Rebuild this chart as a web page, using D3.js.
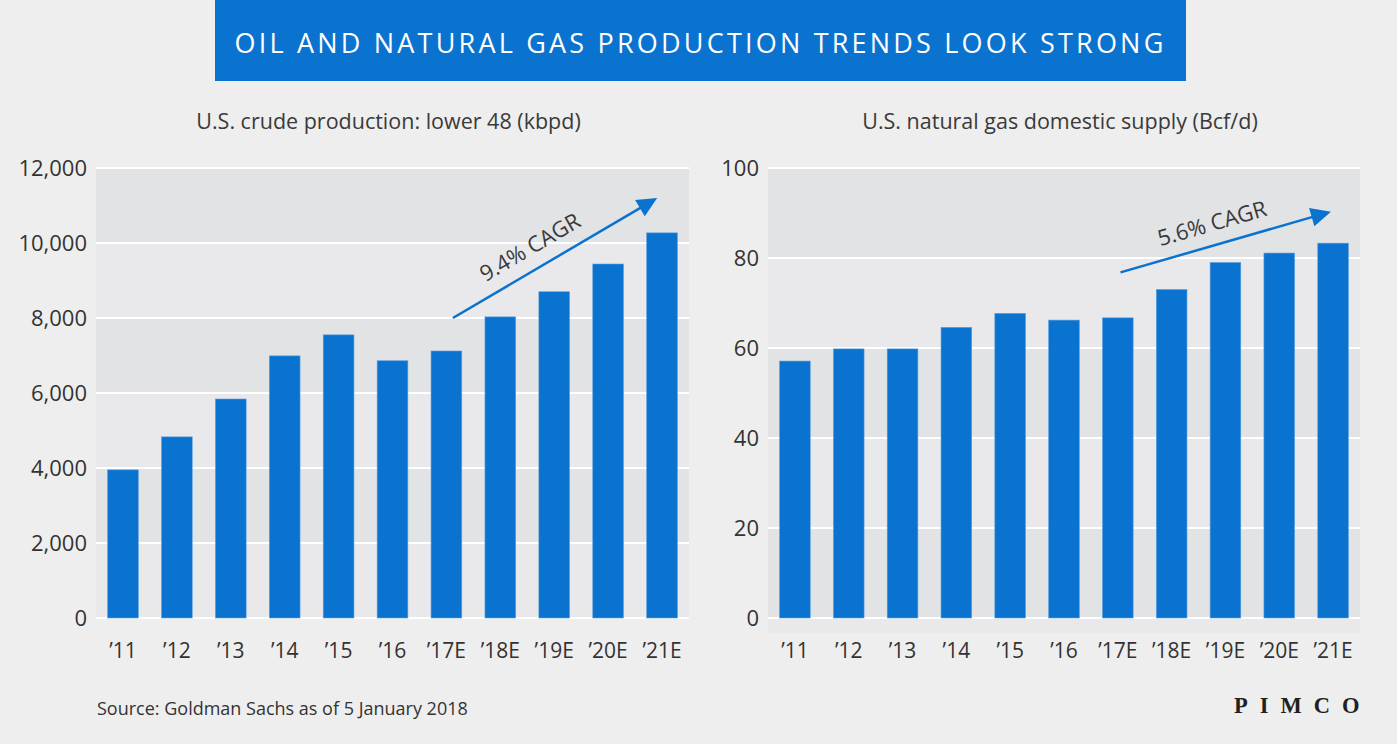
<!DOCTYPE html>
<html><head><meta charset="utf-8">
<script src="https://cdn.jsdelivr.net/npm/d3@7/dist/d3.min.js"></script>
<style>
html,body{margin:0;padding:0;background:#eeeeee;}
svg{display:block;}
text{font-family:"Open Sans","Noto Sans",sans-serif;fill:#333;}
</style></head>
<body>
<svg id="c" width="1397" height="744"></svg>
<script>
const categories = ["\u201911","\u201912","\u201913","\u201914","\u201915","\u201916","\u201917E","\u201918E","\u201919E","\u201920E","\u201921E"];
const crudeValues = [3950, 4830, 5840, 6990, 7550, 6860, 7120, 8030, 8700, 9440, 10270];
const gasValues = [57.1, 59.8, 59.8, 64.6, 67.7, 66.2, 66.7, 73.0, 79.0, 81.1, 83.3];
const crudeTicks = [0, 2000, 4000, 6000, 8000, 10000, 12000];
const gasTicks = [0, 20, 40, 60, 80, 100];
const titleText = "OIL AND NATURAL GAS PRODUCTION TRENDS LOOK STRONG";
const crudeSubtitle = "U.S. crude production: lower 48 (kbpd)";
const gasSubtitle = "U.S. natural gas domestic supply (Bcf/d)";
const crudeCagr = "9.4% CAGR";
const gasCagr = "5.6% CAGR";
// arrow annotations in data terms: [categoryIndex, value]
const crudeArrow = [[6.12, 8000], [9.91, 11200]];
const gasArrow = [[6.05, 76.8], [9.96, 90.3]];
const crudeLabelPos = [7.55, 9890];
const gasLabelPos = [7.75, 87.7];
const sourceText = "Source: Goldman Sachs as of 5 January 2018";

const BLUE = "#0a72cf", DARK = "#e2e3e5", LIGHT = "#e9e9eb";
const svg = d3.select("#c");
svg.append("rect").attr("width",1397).attr("height",744).attr("fill","#eeeeee");

// Title banner
svg.append("rect").attr("x",215).attr("y",0).attr("width",971).attr("height",81).attr("fill",BLUE);
svg.append("text").attr("x",700.5).attr("y",53).attr("text-anchor","middle")
  .style("fill","#fff").style("font-size","27px").style("letter-spacing","3.2px")
  .text(titleText);

function panel(opts){
  const {x0,x1,values,ticks,subtitle,arrow,labelPos,label,extendBelow,topDark} = opts;
  const yTop = 168, yZero = 618;
  const x = d3.scaleBand().domain(categories).range([x0,x1]).paddingInner(0.43).paddingOuter(0.215);
  const y = d3.scaleLinear().domain([0, ticks[ticks.length-1]]).range([yZero, yTop]);
  const step = x.step();
  const xi = i => x(categories[0]) + x.bandwidth()/2 + i*step;
  const g = svg.append("g");
  // bands
  for(let k=0;k<ticks.length-1;k++){
    const fromTop = ticks.length-2-k;
    g.append("rect").attr("x",x0).attr("width",x1-x0)
      .attr("y",y(ticks[k+1])).attr("height",y(ticks[k])-y(ticks[k+1]))
      .attr("fill",(fromTop%2===0)===topDark?DARK:LIGHT);
  }
  if(extendBelow){
    g.append("rect").attr("x",x0).attr("width",x1-x0).attr("y",yZero).attr("height",extendBelow)
      .attr("fill",((ticks.length-1)%2===0)===topDark?DARK:LIGHT);
  }
  // gridlines (behind bars)
  g.selectAll(".grid").data(ticks).join("line")
    .attr("x1",x0).attr("x2",x1).attr("y1",d=>y(d)).attr("y2",d=>y(d))
    .attr("stroke","#fff").attr("stroke-width",2);
  // bars
  g.selectAll(".bar").data(values).join("rect")
    .attr("x",(d,i)=>x(categories[i])).attr("width",x.bandwidth())
    .attr("y",d=>y(d)).attr("height",d=>y(0)-y(d))
    .attr("fill",BLUE).attr("stroke","#5aa0e0").attr("stroke-width",0.6);
  // y axis labels
  const ya = d3.axisLeft(y).tickValues(ticks).tickSize(0).tickPadding(9).tickFormat(d3.format(","));
  const yg = g.append("g").attr("transform",`translate(${x0},0)`).call(ya);
  yg.select(".domain").remove();
  yg.selectAll("text").style("font-size","22px").style("fill","#333").attr("dy","0.36em")
    .style("font-family","'Open Sans','Noto Sans',sans-serif");
  // x axis labels
  const xa = d3.axisBottom(x).tickSize(0).tickPadding(0);
  const xg = g.append("g").attr("transform",`translate(0,${yZero})`).call(xa);
  xg.select(".domain").remove();
  xg.selectAll("text").style("font-size","21px").style("fill","#333").attr("y",40).attr("dy",0)
    .style("font-family","'Open Sans','Noto Sans',sans-serif");
  // subtitle
  g.append("text").attr("x",(x0+x1)/2-4).attr("y",129).attr("text-anchor","middle")
    .style("font-size","21.5px").style("fill","#3a3a3a").text(subtitle);
  // arrow
  const p0 = [xi(arrow[0][0]), y(arrow[0][1])], p1 = [xi(arrow[1][0]), y(arrow[1][1])];
  const ang = Math.atan2(p1[1]-p0[1], p1[0]-p0[0]);
  const hl = 20, hw = 9.5;
  const base = [p1[0]-hl*Math.cos(ang), p1[1]-hl*Math.sin(ang)];
  g.append("line").attr("x1",p0[0]).attr("y1",p0[1]).attr("x2",base[0]+2*Math.cos(ang)).attr("y2",base[1]+2*Math.sin(ang))
    .attr("stroke",BLUE).attr("stroke-width",2.5);
  const nx = -Math.sin(ang), ny = Math.cos(ang);
  g.append("path").attr("d",`M${p1[0]},${p1[1]}L${base[0]+hw*nx},${base[1]+hw*ny}L${base[0]-hw*nx},${base[1]-hw*ny}Z`)
    .attr("fill",BLUE);
  const deg = ang*180/Math.PI;
  g.append("text").attr("transform",`translate(${xi(labelPos[0])},${y(labelPos[1])}) rotate(${deg})`)
    .attr("text-anchor","middle").attr("dy","0.35em").style("font-size","22px").style("fill","#3a3a3a").text(label);
}

panel({x0:96,x1:689,values:crudeValues,ticks:crudeTicks,subtitle:crudeSubtitle,arrow:crudeArrow,labelPos:crudeLabelPos,label:crudeCagr,extendBelow:0,topDark:true});
panel({x0:768,x1:1360,values:gasValues,ticks:gasTicks,subtitle:gasSubtitle,arrow:gasArrow,labelPos:gasLabelPos,label:gasCagr,extendBelow:15,topDark:true});

svg.append("text").attr("x",97).attr("y",715).style("font-size","18px").style("fill","#333").text(sourceText);
svg.append("text").attr("x",1234).attr("y",713)
  .style("font-family","'Liberation Serif','DejaVu Serif',serif").style("font-size","22.5px")
  .style("letter-spacing","12px").style("font-weight","bold").style("fill","#231f20").text("PIMCO");
</script>
</body></html>
